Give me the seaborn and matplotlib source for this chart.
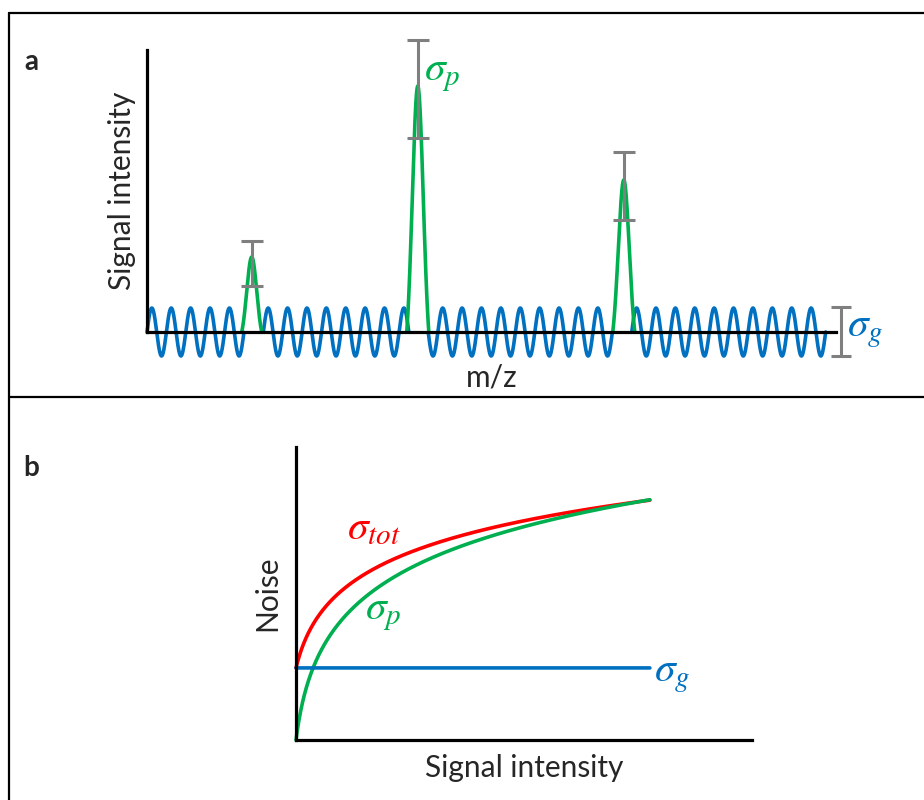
import numpy as np
import pandas as pd
import seaborn as sns
import matplotlib.pyplot as plt
from matplotlib.lines import Line2D

sns.set_style("white")
plt.rcParams['font.family'] = ['Lato', 'DejaVu Sans']
plt.rcParams['mathtext.fontset'] = 'stix'

BLUE = "#0070c0"
GREEN = "#00b050"
RED = "#ff0000"
GRAY = "#7f7f7f"

# panel a: spectrum values (m/z units 0-100, intensity units 0-100)
peak_mz = [15.2, 39.3, 69.2]
peak_height = [26.6, 87.2, 53.9]
peak_halfwidth = [1.45, 1.6, 1.6]
err_low = [16.3, 68.8, 39.7]
err_high = [32.3, 103.5, 63.8]
noise_amp = 8.5
noise_cycles = 35
noise_end = 98.5
sigma_g_bar_x = 100.7

# panel b: noise model values (signal 0-100, noise 0-100)
signal_end = 77.6
sigma_g_level = 24.6
sigma_p_scale = 21.5
sigma_p_knee = 1.75
sigma_tot_scale = 16.7
sigma_tot_knee = 2.6

W, H = 924, 800
fig = plt.figure(figsize=(W / 100, H / 100), dpi=100)


def place(ax, x0px, y0px, xscale, yscale, xlim, ylim):
    # put the data origin at pixel (x0px, y0px) with the given px/unit
    left = x0px + xlim[0] * xscale
    right = x0px + xlim[1] * xscale
    top = y0px - ylim[1] * yscale
    bottom = y0px - ylim[0] * yscale
    ax.set_position([left / W, 1 - bottom / H, (right - left) / W, (bottom - top) / H])
    ax.set_xlim(xlim)
    ax.set_ylim(ylim)


def style_axes(ax):
    for s in ['top', 'right']:
        ax.spines[s].set_visible(False)
    for s in ['left', 'bottom']:
        ax.spines[s].set_color('black')
        ax.spines[s].set_linewidth(2.3)
        ax.spines[s].set_position(('data', 0))
        ax.spines[s].set_bounds(0, 100)
        ax.spines[s].set_zorder(5)
    ax.set_xticks([])
    ax.set_yticks([])
    ax.set_xlabel('')
    ax.set_ylabel('')
    ax.patch.set_alpha(0)


MATH = 30
LABEL = 21.5

# ---------- panel a ----------
ax_a = fig.add_axes([0, 0, 1, 1])
place(ax_a, 147, 332, 6.89, 2.82, (-5, 112), (-20, 110))

x = np.linspace(0, noise_end, 4000)
noise = noise_amp * np.sin(2 * np.pi * noise_cycles * x / noise_end)
half_period = noise_end / (2 * noise_cycles)
seg = np.zeros(len(x), dtype=int)
keep = np.ones(len(x), dtype=bool)
for m, w in zip(peak_mz, peak_halfwidth):
    # blue trace stops at the baseline crossings next to each peak
    gap_lo = round((m - w) / half_period) * half_period
    gap_hi = round((m + w) / half_period) * half_period
    keep &= (x <= gap_lo) | (x >= gap_hi)
    seg += (x > m).astype(int)
noise_df = pd.DataFrame({'mz': x[keep], 'y': noise[keep], 'seg': seg[keep]})
sns.lineplot(data=noise_df, x='mz', y='y', units='seg', estimator=None,
             color=BLUE, lw=2.6, ax=ax_a, zorder=2)

peak_rows = []
for i, (m, h, w) in enumerate(zip(peak_mz, peak_height, peak_halfwidth)):
    dx = np.linspace(-w, w, 200)
    s = w / 2.0
    g = np.exp(-dx ** 2 / (2 * s ** 2))
    gw = np.exp(-w ** 2 / (2 * s ** 2))
    y = h * (g - gw) / (1 - gw)
    peak_rows.append(pd.DataFrame({'mz': m + dx, 'y': y, 'peak': i}))
peak_df = pd.concat(peak_rows)
sns.lineplot(data=peak_df, x='mz', y='y', units='peak', estimator=None,
             color=GREEN, lw=2.6, ax=ax_a, zorder=3)

mid = [(lo + hi) / 2 for lo, hi in zip(err_low, err_high)]
half = [(hi - lo) / 2 for lo, hi in zip(err_low, err_high)]
ax_a.errorbar(peak_mz, mid, yerr=half, fmt='none', ecolor=GRAY,
              elinewidth=2.2, capsize=8, capthick=2.2, zorder=4)
ax_a.errorbar([sigma_g_bar_x], [0.2], yerr=[noise_amp + 0.2], fmt='none',
              ecolor=GRAY, elinewidth=2.2, capsize=7, capthick=2.2, zorder=4)

style_axes(ax_a)
ax_a.text(40.2, 91, r'$\sigma_p$', color=GREEN, fontsize=MATH, ha='left', va='center')
ax_a.text(101.6, 0.3, r'$\sigma_g$', color=BLUE, fontsize=MATH, ha='left', va='center')
ax_a.text(-3.6, 50, 'Signal intensity', rotation=90, fontsize=LABEL,
          ha='center', va='center')
ax_a.text(50, -16.3, 'm/z', fontsize=LABEL, ha='center', va='center')

# ---------- panel b ----------
ax_b = fig.add_axes([0, 0, 1, 1])
place(ax_b, 296, 740, 4.56, 2.93, (-8, 100), (-12, 103))

s_sig = np.linspace(0, signal_end, 1500)
sigma_p = sigma_p_scale * np.log(1 + s_sig / sigma_p_knee)
sigma_tot = sigma_g_level + sigma_tot_scale * np.log(1 + s_sig / sigma_tot_knee)
sigma_g = np.full_like(s_sig, sigma_g_level)
curves = pd.DataFrame({
    'signal': np.tile(s_sig, 3),
    'noise': np.concatenate([sigma_g, sigma_p, sigma_tot]),
    'kind': np.repeat(['g', 'p', 'tot'], len(s_sig)),
})
sns.lineplot(data=curves, x='signal', y='noise', hue='kind',
             palette={'g': BLUE, 'p': GREEN, 'tot': RED},
             hue_order=['tot', 'p', 'g'], estimator=None, sort=False,
             lw=2.6, ax=ax_b, legend=False)

style_axes(ax_b)
ax_b.text(11.2, 72.4, r'$\sigma_{tot}$', color=RED, fontsize=MATH, ha='left', va='center')
ax_b.text(15.2, 43, r'$\sigma_p$', color=GREEN, fontsize=MATH, ha='left', va='center')
ax_b.text(78.5, 22, r'$\sigma_g$', color=BLUE, fontsize=MATH, ha='left', va='center')
ax_b.text(-6.3, 50, 'Noise', rotation=90, fontsize=LABEL, ha='center', va='center')
ax_b.text(50, -9.6, 'Signal intensity', fontsize=LABEL, ha='center', va='center')

# ---------- panel frame and letters ----------
def fig_line(xs, ys):
    fig.add_artist(Line2D([v / W for v in xs], [1 - v / H for v in ys],
                          transform=fig.transFigure, color='black', lw=1.6))

fig_line([9, W], [13, 13])
fig_line([9, 9], [13, H])
fig_line([9, W], [397, 397])

fig.text(31 / W, 1 - 62 / H, 'a', fontsize=20, fontweight='bold', ha='center', va='center')
fig.text(31 / W, 1 - 468 / H, 'b', fontsize=20, fontweight='bold', ha='center', va='center')

fig.savefig('out.png', dpi=100)
